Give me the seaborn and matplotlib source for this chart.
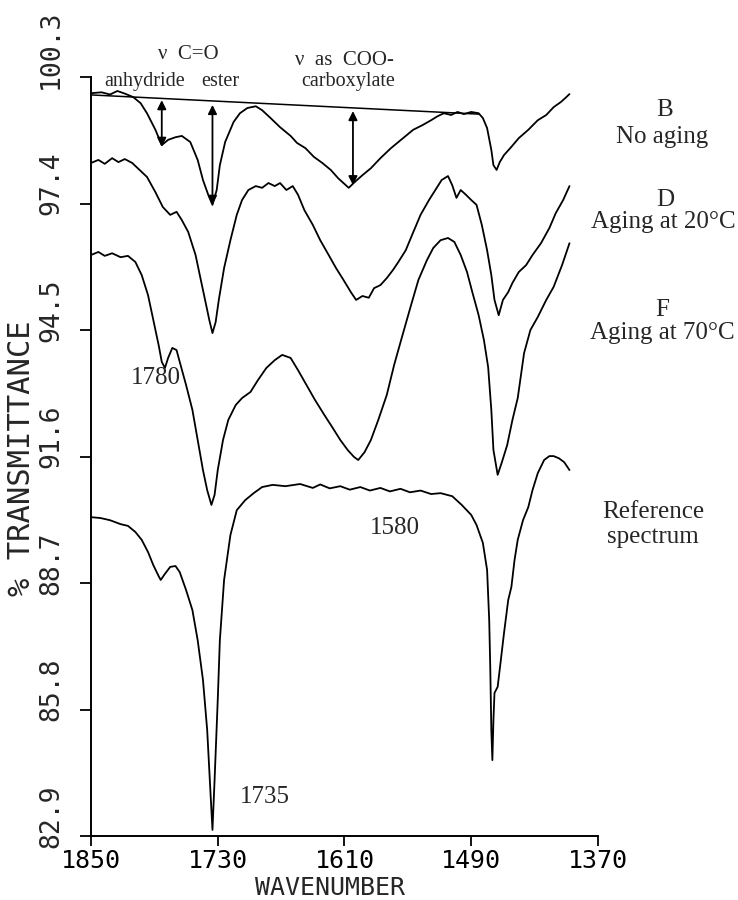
import numpy as np
import pandas as pd
import matplotlib
matplotlib.use("Agg")
import matplotlib.pyplot as plt
import matplotlib.transforms as mtransforms
import seaborn as sns

wn_B = [1850, 1840, 1832, 1825, 1818, 1810, 1803, 1797, 1789, 1783, 1777, 1770, 1764, 1756, 1749,
        1744, 1739, 1735, 1731, 1728, 1723, 1715, 1709, 1702, 1694, 1688, 1680, 1671, 1661, 1655,
        1647, 1639, 1631, 1623, 1616, 1606, 1600, 1593, 1585, 1576, 1566, 1560, 1552, 1545, 1536,
        1528, 1522, 1516, 1509, 1503, 1497, 1490, 1483, 1479, 1475, 1471, 1469, 1466, 1463, 1459,
        1452, 1445, 1436, 1427, 1419, 1412, 1405, 1400, 1397]
t_B = [99.93, 99.95, 99.90, 99.98, 99.92, 99.84, 99.70, 99.47, 99.09, 98.74, 98.86, 98.92, 98.95, 98.81, 98.40,
       97.94, 97.60, 97.37, 97.71, 98.28, 98.81, 99.27, 99.47, 99.59, 99.63, 99.54, 99.36, 99.15, 98.95, 98.79,
       98.67, 98.47, 98.33, 98.17, 97.98, 97.76, 97.90, 98.05, 98.21, 98.44, 98.67, 98.79, 98.95, 99.09, 99.20,
       99.31, 99.40, 99.47, 99.43, 99.50, 99.45, 99.50, 99.47, 99.36, 99.13, 98.63, 98.28, 98.17, 98.35, 98.51,
       98.70, 98.90, 99.09, 99.31, 99.43, 99.61, 99.73, 99.84, 99.91]

wn_D = [1850, 1843, 1837, 1830, 1824, 1818, 1811, 1804, 1797, 1789, 1782, 1775, 1769, 1764, 1758,
        1751, 1747, 1742, 1738, 1735, 1732, 1729, 1724, 1718, 1712, 1707, 1701, 1694, 1688, 1682,
        1676, 1671, 1665, 1659, 1654, 1648, 1640, 1633, 1625, 1618, 1611, 1604, 1599, 1593, 1587,
        1582, 1576, 1570, 1564, 1559, 1552, 1546, 1538, 1530, 1524, 1518, 1512, 1508, 1504, 1500,
        1495, 1490, 1485, 1480, 1475, 1471, 1468, 1464, 1460, 1455, 1451, 1445, 1438, 1432, 1424,
        1416, 1410, 1403, 1397]
t_D = [98.33, 98.40, 98.31, 98.44, 98.35, 98.42, 98.33, 98.17, 98.01, 97.66, 97.32, 97.14, 97.21, 97.02, 96.75,
       96.22, 95.76, 95.19, 94.73, 94.43, 94.68, 95.19, 95.92, 96.56, 97.14, 97.48, 97.71, 97.80, 97.76, 97.87,
       97.80, 97.87, 97.71, 97.80, 97.60, 97.25, 96.91, 96.56, 96.22, 95.92, 95.65, 95.37, 95.19, 95.28, 95.24,
       95.46, 95.53, 95.69, 95.88, 96.06, 96.33, 96.68, 97.14, 97.48, 97.71, 97.94, 98.03, 97.82, 97.53, 97.71,
       97.60, 97.48, 97.37, 96.91, 96.33, 95.76, 95.19, 94.84, 95.19, 95.37, 95.58, 95.83, 95.99, 96.22, 96.49,
       96.84, 97.18, 97.48, 97.80]

wn_F = [1850, 1843, 1837, 1830, 1822, 1815, 1808, 1802, 1796, 1791, 1786, 1783, 1780, 1777, 1773,
        1769, 1766, 1760, 1754, 1749, 1744, 1740, 1736, 1733, 1730, 1725, 1720, 1713, 1707, 1699,
        1692, 1684, 1676, 1669, 1661, 1654, 1646, 1638, 1629, 1621, 1614, 1607, 1601, 1597, 1591,
        1585, 1578, 1570, 1563, 1555, 1547, 1540, 1532, 1526, 1519, 1512, 1506, 1500, 1494, 1489,
        1483, 1478, 1474, 1471, 1469, 1465, 1461, 1456, 1451, 1446, 1440, 1434, 1427, 1419, 1412,
        1404, 1397]
t_F = [96.22, 96.29, 96.20, 96.26, 96.17, 96.20, 96.06, 95.76, 95.30, 94.73, 94.16, 93.77, 93.63, 93.86, 94.09,
       94.04, 93.77, 93.24, 92.67, 91.98, 91.29, 90.83, 90.49, 90.72, 91.29, 91.98, 92.44, 92.78, 92.94, 93.08,
       93.35, 93.63, 93.81, 93.93, 93.86, 93.58, 93.24, 92.90, 92.55, 92.25, 91.98, 91.75, 91.59, 91.52, 91.70,
       91.98, 92.44, 93.01, 93.70, 94.39, 95.07, 95.65, 96.10, 96.38, 96.56, 96.61, 96.52, 96.22, 95.83, 95.37,
       94.84, 94.27, 93.65, 92.67, 91.75, 91.18, 91.47, 91.86, 92.44, 92.94, 93.97, 94.50, 94.80, 95.19, 95.49,
       95.99, 96.49]

wn_ref = [1850, 1841, 1832, 1822, 1815, 1808, 1802, 1796, 1791, 1786, 1784, 1780, 1775, 1770, 1766,
          1760, 1754, 1749, 1744, 1740, 1737, 1735, 1733, 1730, 1728, 1724, 1718, 1712, 1704, 1696,
          1688, 1678, 1666, 1652, 1640, 1633, 1624, 1614, 1605, 1595, 1586, 1576, 1567, 1557, 1548,
          1538, 1528, 1519, 1508, 1499, 1490, 1485,
          1479, 1475, 1473, 1472, 1471, 1470, 1469, 1468, 1465, 1462, 1459, 1455, 1452, 1449, 1446,
          1441, 1436, 1432, 1427, 1421, 1416, 1412, 1407, 1402, 1397]
t_ref = [90.21, 90.19, 90.14, 90.05, 90.01, 89.87, 89.69, 89.41, 89.11, 88.86, 88.77, 88.91, 89.07, 89.09, 88.95,
         88.54, 88.08, 87.39, 86.48, 85.33, 83.95, 83.04, 84.18, 86.02, 87.39, 88.77, 89.80, 90.37, 90.60, 90.76,
         90.90, 90.95, 90.92, 90.97, 90.88, 90.96, 90.87, 90.92, 90.84, 90.90, 90.82, 90.88, 90.80, 90.86, 90.78,
         90.82, 90.74, 90.76, 90.69, 90.49, 90.26, 90.03,
         89.62, 89.00, 87.85, 86.77, 85.33, 84.64, 85.56, 86.18, 86.32, 86.93, 87.55, 88.31, 88.61, 89.23, 89.69,
         90.14, 90.44, 90.83, 91.22, 91.52, 91.61, 91.61, 91.56, 91.47, 91.29]

# baseline drawn under spectrum B and the band-height arrows
base_wn = [1850, 1483]
base_t = [99.89, 99.45]
arrow_wn = [1783, 1735, 1602]
arrow_top = [99.77, 99.66, 99.52]
arrow_bot = [98.70, 97.37, 97.82]

x_ticks = [1850, 1730, 1610, 1490, 1370]
y_ticks = [82.9, 85.8, 88.7, 91.6, 94.5, 97.4, 100.3]

sns.set_theme(style="ticks")
plt.rcParams['font.family'] = ['DejaVu Sans Mono']

df = pd.concat([
    pd.DataFrame({"wn": wn_B, "T": t_B, "curve": "B"}),
    pd.DataFrame({"wn": wn_D, "T": t_D, "curve": "D"}),
    pd.DataFrame({"wn": wn_F, "T": t_F, "curve": "F"}),
    pd.DataFrame({"wn": wn_ref, "T": t_ref, "curve": "ref"}),
])

fig = plt.figure(figsize=(7.38, 9.0), dpi=100)
ax = fig.add_axes([0.1233, 0.0711, 0.687, 0.8433])

for name, sub in df.groupby("curve"):
    sns.lineplot(data=sub, x="wn", y="T", color="black", lw=1.3, sort=False,
                 estimator=None, ax=ax, legend=False)

ax.plot(base_wn, base_t, color="black", lw=1.1)
for xw, yt, yb in zip(arrow_wn, arrow_top, arrow_bot):
    ax.annotate("", xy=(xw, yb), xytext=(xw, yt),
                arrowprops=dict(arrowstyle="<|-|>", color="black", lw=1.3,
                                mutation_scale=13, shrinkA=0, shrinkB=0))

ax.set_xlim(1850, 1370)
ax.set_ylim(82.9, 100.3)
ax.set_xticks(x_ticks)
ax.set_xticklabels([str(v) for v in x_ticks], fontsize=18)
ax.set_yticks(y_ticks)
ax.set_yticklabels([])

# plotter-style rotated y labels, starting just below each tick
ylab_tr = mtransforms.blended_transform_factory(ax.transAxes, ax.transData)
for v in y_ticks:
    ax.text(-0.079, v - 0.27, f"{v:.1f}", transform=ylab_tr, rotation=90,
            ha="center", va="bottom", fontsize=19, clip_on=False)

ax.tick_params(axis="y", length=8, width=1.3, colors="black")
ax.tick_params(axis="x", length=7, width=1.3, pad=2, colors="black")
sns.despine(ax=ax)
for s in ["left", "bottom"]:
    ax.spines[s].set_linewidth(1.4)
    ax.spines[s].set_color("black")

ax.set_xlabel("")
ax.set_ylabel("")
fig.text(330 / 738, 1 - 888 / 900, "WAVENUMBER", fontsize=18, ha="center", va="center")
fig.text(22 / 738, 1 - 458 / 900, "% TRANSMITTANCE", fontsize=22, rotation=90,
         ha="center", va="center")

serif = ["Liberation Serif", "DejaVu Serif"]
fig.text(0.2547, 0.9389, "\u03bd  C=O", fontsize=15, family=serif, ha="center", va="center")
fig.text(0.1965, 0.9089, "anhydride", fontsize=14.5, family=serif, ha="center", va="center")
fig.text(0.2981, 0.9089, "ester", fontsize=14.5, family=serif, ha="center", va="center")
fig.text(0.4661, 0.9333, "\u03bd  as  COO-", fontsize=15, family=serif, ha="center", va="center")
fig.text(0.4715, 0.9089, "carboxylate", fontsize=14.5, family=serif, ha="center", va="center")

right_labels = [("B", 0.9011, 0.8778), ("No aging", 0.897, 0.8478),
                ("D", 0.9011, 0.7778), ("Aging at 20\u00b0C", 0.8984, 0.7533),
                ("F", 0.897, 0.6556), ("Aging at 70\u00b0C", 0.897, 0.63),
                ("Reference", 0.8848, 0.4311), ("spectrum", 0.8848, 0.4033)]
for txt, fx, fy in right_labels:
    fig.text(fx, fy, txt, fontsize=18, family=serif, ha="center", va="center")

ax.text(1789, 93.40, "1780", fontsize=18, family=serif, ha="center", va="center")
ax.text(1562, 89.96, "1580", fontsize=18, family=serif, ha="center", va="center")
ax.text(1685, 83.79, "1735", fontsize=18, family=serif, ha="center", va="center")

fig.savefig("out.png", dpi=100)
